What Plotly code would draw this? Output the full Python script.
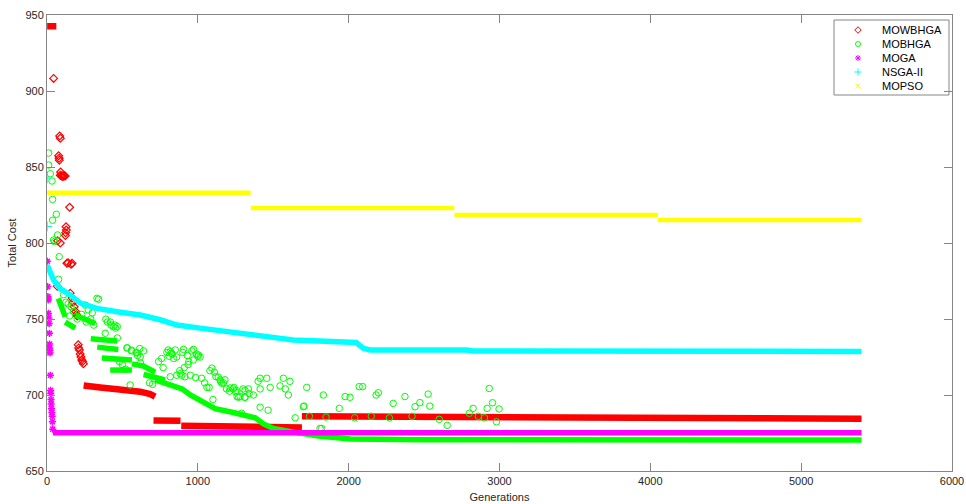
import plotly.graph_objects as go

# ---------------- data ----------------
# MOWBHGA: dense (continuous) pieces, each a list of (generation, cost) points
mow_pieces_gen = [
    [1, 62],
    [243, 300, 353, 450, 530, 618, 684, 717],
    [706, 885],
    [890, 1200, 1690],
    [1690, 2300, 2560, 2640, 3000, 5400],
]
mow_pieces_cost = [
    [942.6, 942.6],
    [706.3, 705.2, 705.0, 704.0, 703.3, 702.2, 700.6, 698.9],
    [683.2, 683.0],
    [679.8, 679.3, 678.6],
    [686.0, 685.8, 685.5, 684.9, 684.6, 684.4],
]
# MOWBHGA: isolated solutions
mow_gen = [44, 84, 88, 77, 80, 82, 90, 88, 95, 100, 105, 110, 115, 120, 150,
           126, 128, 124, 122, 70, 88, 68, 132, 140, 160, 166, 154, 166, 172,
           180, 190, 196, 200, 207, 210, 215, 220, 225, 230, 236, 241]
mow_cost = [908.3, 870.4, 868.9, 857.4, 855.7, 854.5, 846.7, 844.5, 844.0,
            844.2, 843.8, 844.1, 844.3, 844.0, 823.5, 810.7, 808.5, 806.8,
            805.0, 801.5, 800.0, 771.5, 786.7, 787.0, 786.0, 786.7, 767.0,
            763.8, 761.0, 758.0, 755.0, 753.0, 752.0, 733.0, 731.0, 729.6,
            727.0, 725.0, 723.0, 722.0, 720.5]

# MOBHGA: dense pieces
mob_pieces_gen = [
    [75, 95, 121],
    [121, 187],
    [190, 320],
    [290, 466],
    [333, 473],
    [364, 563],
    [419, 563],
    [563, 640, 717],
    [640, 717, 783],
    [717, 800, 896, 950, 1003, 1060, 1115, 1235, 1345, 1380, 1435, 1500,
     1635, 1800, 2010, 2500, 5400],
]
mob_pieces_cost = [
    [763.5, 757.0, 751.5],
    [748.0, 744.0],
    [752.5, 747.0],
    [737.0, 735.5],
    [731.5, 730.0],
    [724.3, 723.0],
    [716.4, 716.4],
    [720.5, 719.0, 715.0],
    [713.5, 711.5, 710.0],
    [710.0, 707.5, 704.0, 700.0, 697.0, 693.4, 691.0, 688.5, 686.5, 685.0,
     681.0, 678.0, 675.6, 673.0, 671.0, 670.6, 670.4],
]
# MOBHGA: isolated solutions
mob_gen = [11, 11, 22, 33, 37, 37, 62, 70, 44, 50, 81, 77, 254, 331, 390,
           420, 450, 466, 386, 466, 532, 560, 598, 618, 551, 803, 830, 860,
           900, 940, 1000, 850, 817, 971, 1004, 935, 970, 880, 910, 1093,
           1110, 1135, 817, 860, 894, 1148, 1159, 1180, 1214, 1250, 1280,
           1313, 1340, 1368, 1413, 1457, 1413, 1480, 1545, 1567, 1611, 1580,
           1600, 1722, 1832, 1413, 1466, 1645, 1700, 1704, 1821, 1810, 1290,
           1400, 1335, 1314, 1938, 1976, 2009, 2070, 2093, 2182, 2197, 2295,
           2373, 2440, 2472, 2527, 2538, 2653, 2800, 2825, 2932, 2954, 2918,
           2997, 2980, 1740, 1850, 2040, 2150, 2270, 2420, 2600, 2860, 2900,
           # dense cloud over the first thousand generations
           200, 230, 260, 290, 310, 273, 300, 342, 400, 425, 440, 455, 530,
           560, 590, 615, 640, 600, 620, 795, 810, 825, 840, 905, 930, 960,
           990, 1015, 883, 915, 950, 985, 1025, 1045, 1060, 1075, 1100, 1080,
           1120, 1150, 1170, 1190, 1210, 1235, 1255, 1270, 1300, 1310, 1240,
           1260, 140, 160, 175, 110, 125, 150, 480, 500, 520, 680, 700, 740,
           760, 770]
mob_cost = [859.2, 851.3, 845.6, 840.8, 828.7, 815.0, 818.9, 805.3, 802.0,
            801.0, 791.0, 776.1, 759.2, 763.6, 749.9, 748.0, 746.0, 745.0,
            740.6, 737.5, 731.0, 729.0, 727.7, 725.0, 706.6, 729.6, 727.0,
            725.0, 728.0, 722.0, 725.5, 729.6, 728.5, 730.0, 726.3, 720.0,
            723.0, 716.0, 718.0, 717.7, 715.0, 711.8, 712.0, 713.0, 713.0,
            710.0, 707.7, 710.0, 704.6, 702.0, 699.0, 703.0, 701.0, 700.0,
            711.0, 711.0, 704.0, 705.0, 706.0, 711.0, 709.0, 704.0, 700.0,
            705.0, 700.0, 692.0, 690.0, 685.0, 692.3, 692.7, 678.0, 678.0,
            688.0, 709.0, 704.0, 698.5, 691.2, 699.0, 698.5, 705.5, 705.5,
            700.0, 701.5, 694.5, 699.0, 692.3, 695.0, 700.6, 692.7, 680.0,
            688.0, 691.2, 704.3, 694.9, 691.2, 690.8, 682.4, 686.0, 685.5,
            685.0, 686.0, 685.0, 686.0, 684.0, 686.0, 685.0,
            750.0, 753.0, 748.0, 750.0, 746.0, 756.0, 754.0, 763.0, 748.0,
            746.0, 745.0, 744.0, 731.0, 729.5, 728.0, 730.5, 729.0, 726.0,
            721.0, 728.0, 725.5, 727.5, 724.0, 730.0, 726.0, 729.0, 727.0,
            725.0, 714.0, 712.0, 713.0, 711.5, 711.0, 708.0, 705.0, 705.0,
            697.0, 716.0, 712.0, 709.0, 708.0, 704.0, 702.5, 704.0, 703.0,
            698.5, 704.0, 698.5, 705.0, 699.0, 760.0, 758.0, 755.0, 766.0,
            761.0, 752.0, 722.0, 720.0, 717.0, 708.0, 707.0, 722.0, 724.0,
            718.0]

# MOGA: early solutions, then a flat plateau
moga_gen = [2, 4, 6, 7, 8, 10, 12, 14, 16, 17, 18, 19, 20, 22, 24, 25, 27,
            28, 30, 32, 34, 36, 38]
moga_cost = [788.0, 771.3, 764.7, 763.5, 762.5, 753.7, 750.6, 747.0, 740.6,
             733.5, 731.0, 729.5, 727.7, 713.0, 703.0, 701.0, 697.0, 694.0,
             691.0, 688.5, 686.0, 682.4, 677.5]
moga_plateau_gen = [40, 5400]
moga_plateau_cost = [675.2, 675.2]

# NSGA-II: two isolated early points and a descending front
nsga_gen = [1, 1]
nsga_cost = [842.6, 811.0]
nsga_front_gen = [1, 44, 88, 154, 220, 331, 464, 618, 750, 861, 1015, 1234,
                  1457, 1633, 1900, 2050, 2097, 2141, 2781, 2825, 5400]
nsga_front_cost = [785.5, 775.6, 770.0, 765.8, 760.5, 757.0, 754.8, 752.6,
                   749.5, 746.0, 744.0, 741.6, 738.4, 736.2, 735.0, 734.5,
                   730.7, 729.6, 729.6, 728.9, 728.7]

# MOPSO: four constant stages
mopso_start = [1, 1351, 2701, 4051]
mopso_end = [1350, 2700, 4050, 5400]
mopso_cost = [833.1, 823.0, 818.4, 815.1]

# axes
x_ticks = [0, 1000, 2000, 3000, 4000, 5000, 6000]
y_ticks = [650, 700, 750, 800, 850, 900, 950]

# series styling (legend order)
series_names = ["MOWBHGA", "MOBHGA", "MOGA", "NSGA-II", "MOPSO"]
series_colors = ["#ff0000", "#00ff00", "#ff00ff", "#00ffff", "#ffff00"]
series_symbols = ["diamond-open", "circle-open", "asterisk-open",
                  "cross-thin-open", "x-thin-open"]
RED, GREEN, MAGENTA, CYAN, YELLOW = series_colors

FONT = "Liberation Sans, Arial, sans-serif"
TEXT = "#262626"
FRAME = "#858585"

# plot area in pixels (used for the hand-built legend overlay)
W, H = 966, 504
ML, MR, MT, MB = 47, 14, 15, 33
PX0, PX1 = ML, W - MR
PY0, PY1 = MT, H - MB


def join_pieces(gens, costs):
    xs, ys = [], []
    for g, c in zip(gens, costs):
        xs += list(g) + [None]
        ys += list(c) + [None]
    return xs, ys


fig = go.Figure()

# --- MOWBHGA ---
x, y = join_pieces(mow_pieces_gen, mow_pieces_cost)
fig.add_trace(go.Scatter(x=x, y=y, mode="lines", line=dict(color=RED, width=6.5),
                         hoverinfo="skip"))
fig.add_trace(go.Scatter(x=mow_gen, y=mow_cost, mode="markers", name="MOWBHGA",
                         marker=dict(symbol="diamond-open", size=6, color=RED,
                                     line=dict(color=RED, width=1.2))))

# --- MOBHGA ---
x, y = join_pieces(mob_pieces_gen, mob_pieces_cost)
fig.add_trace(go.Scatter(x=x, y=y, mode="lines", line=dict(color=GREEN, width=5.5),
                         hoverinfo="skip"))
fig.add_trace(go.Scatter(x=mob_gen, y=mob_cost, mode="markers", name="MOBHGA",
                         marker=dict(symbol="circle-open", size=6.5, color=GREEN,
                                     line=dict(color=GREEN, width=1))))

# --- MOGA ---
fig.add_trace(go.Scatter(x=moga_plateau_gen, y=moga_plateau_cost, mode="lines",
                         line=dict(color=MAGENTA, width=5.5), hoverinfo="skip"))
fig.add_trace(go.Scatter(x=moga_gen, y=moga_cost, mode="markers", name="MOGA",
                         marker=dict(symbol="asterisk-open", size=6, color=MAGENTA,
                                     line=dict(color=MAGENTA, width=1.5))))

# --- NSGA-II ---
fig.add_trace(go.Scatter(x=nsga_front_gen, y=nsga_front_cost, mode="lines",
                         line=dict(color=CYAN, width=5.5), hoverinfo="skip"))
fig.add_trace(go.Scatter(x=nsga_gen, y=nsga_cost, mode="markers", name="NSGA-II",
                         marker=dict(symbol="cross-thin-open", size=7, color=CYAN,
                                     line=dict(color=CYAN, width=1.2))))

# --- MOPSO ---
sx, sy = [], []
for s, e, c in zip(mopso_start, mopso_end, mopso_cost):
    sx += [s, e, None]
    sy += [c, c, None]
fig.add_trace(go.Scatter(x=sx, y=sy, mode="lines", name="MOPSO",
                         line=dict(color=YELLOW, width=4.5), hoverinfo="skip"))

# --- compact boxed legend drawn on a pixel-space overlay axis ---
leg_left, leg_top, leg_right, leg_bottom = 834, 20, 949, 95
leg_key_x, leg_text_x = 858, 880
leg_rows = [leg_top + 10 + 14 * i for i in range(len(series_names))]

fig.add_shape(type="rect", xref="x2", yref="y2", x0=leg_left, x1=leg_right,
              y0=leg_top, y1=leg_bottom, line=dict(color=FRAME, width=1),
              fillcolor="white", layer="below")
for name, col, sym, ry in zip(series_names, series_colors, series_symbols, leg_rows):
    fig.add_trace(go.Scatter(x=[leg_key_x], y=[ry], xaxis="x2", yaxis="y2",
                             mode="markers", hoverinfo="skip",
                             marker=dict(symbol=sym, size=5, color=col,
                                         line=dict(color=col, width=1))))
    fig.add_annotation(x=leg_text_x, y=ry, xref="x2", yref="y2", text=name,
                       showarrow=False, xanchor="left", yanchor="middle",
                       font=dict(family=FONT, size=11, color="#000000"))

axis_common = dict(
    showline=True, linecolor=FRAME, linewidth=1, mirror="ticks",
    ticks="inside", ticklen=8, tickcolor=FRAME, tickwidth=1,
    showgrid=False, zeroline=False, automargin=False,
    tickfont=dict(family=FONT, size=11, color=TEXT),
)

fig.update_layout(
    width=W, height=H,
    margin=dict(l=ML, r=MR, t=MT, b=MB),
    paper_bgcolor="white", plot_bgcolor="white",
    font=dict(family=FONT, size=11, color=TEXT),
    showlegend=False,
    xaxis=dict(range=[0, 6000], tickvals=x_ticks,
               title=dict(text="Generations", standoff=7,
                          font=dict(size=11, color=TEXT)),
               **axis_common),
    yaxis=dict(range=[650, 950], tickvals=y_ticks,
               title=dict(text="Total Cost", standoff=6,
                          font=dict(size=11, color=TEXT)),
               **axis_common),
    xaxis2=dict(overlaying="x", range=[PX0, PX1], visible=False, fixedrange=True),
    yaxis2=dict(overlaying="y", range=[PY1, PY0], visible=False, fixedrange=True),
)

fig.write_html("out.html")
